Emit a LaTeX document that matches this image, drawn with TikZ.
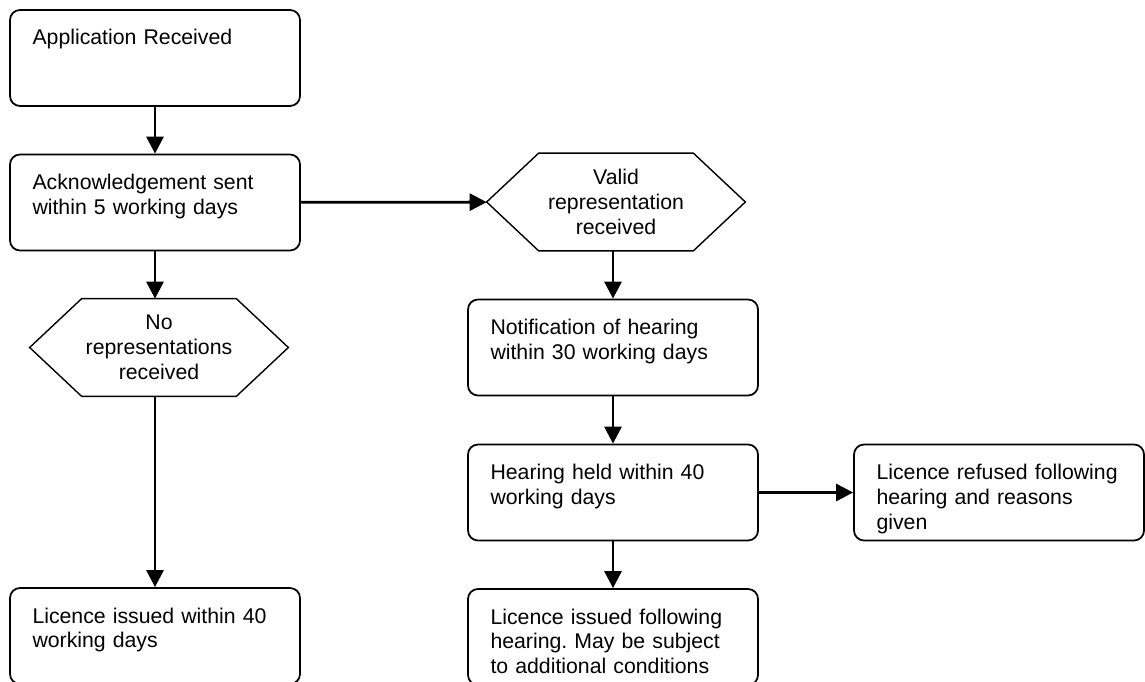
\documentclass[tikz,border=0pt]{standalone}
\usepackage{fontspec}
\setmainfont{Liberation Sans}
\usetikzlibrary{arrows.meta}
\frenchspacing

\begin{document}
\begin{tikzpicture}[every node/.style={font=\fontsize{12.1}{14.2}\selectfont},
 box/.style={draw,line width=1pt,rounded corners=2mm,align=left,text width=4.9cm,inner xsep=.45cm,inner ysep=.4cm,text height=.3cm,text depth=.82cm},
 hexa/.style={align=center,minimum width=5.16cm,minimum height=1.94cm,inner sep=0pt},
 arr/.style={-{Triangle[length=3.4mm,width=3.4mm]},line width=1.6pt}]
\useasboundingbox (0,0) rectangle (22.9,13.62);
\clip (0,0) rectangle (22.9,13.62);
\node[box] (app) at (3.1,12.46) {Application Received};
\node[box] (ack) at (3.1,9.57) {Acknowledgement sent\\within 5 working days};
\node[hexa] (norep) at (3.18,6.67) {No\\representations\\received};
\node[box] (issued) at (3.1,0.9) {Licence issued within 40\\working days};
\node[hexa] (valid) at (12.32,9.58) {Valid\\representation\\received};
\node[box] (notif) at (12.26,6.67) {Notification of hearing\\within 30 working days};
\node[box] (hearing) at (12.26,3.77) {Hearing held within 40\\working days};
\node[box] (refused) at (19.98,3.77) {Licence refused following\\hearing and reasons\\given};
\node[box] (granted) at (12.26,0.88) {Licence issued following\\hearing. May be subject\\to additional conditions};
% hexagon outlines
\foreach \h in {norep,valid}
 \draw[line width=.8pt] (\h.west)--([xshift=1.04cm]\h.north west)--([xshift=-1.04cm]\h.north east)--(\h.east)--([xshift=-1.04cm]\h.south east)--([xshift=1.04cm]\h.south west)--cycle;
\draw[arr] (app)--(ack);
\draw[arr] (ack)--(ack |- norep.north);
\draw[arr] (issued.north |- norep.south)--(issued);
\draw[arr] (ack)--(valid);
\draw[arr] (notif.north |- valid.south)--(notif);
\draw[arr] (notif)--(hearing);
\draw[arr] (hearing)--(refused);
\draw[arr] (hearing)--(granted);
\end{tikzpicture}
\end{document}
